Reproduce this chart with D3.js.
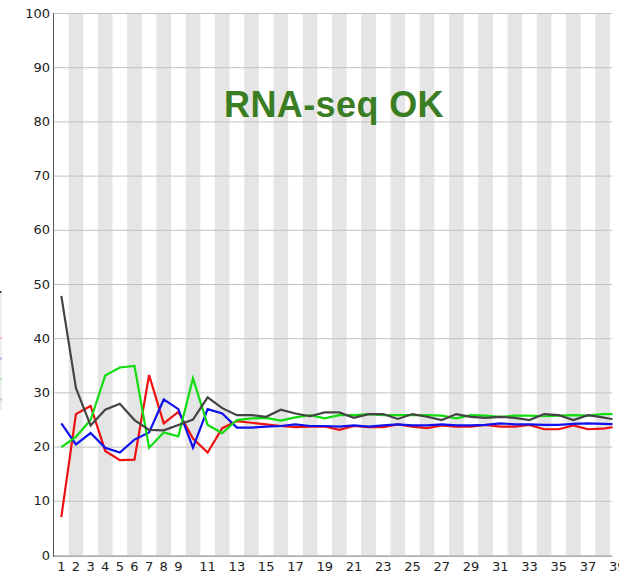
<!DOCTYPE html>
<html>
<head>
<meta charset="utf-8">
<script src="https://cdn.jsdelivr.net/npm/d3@7"></script>
<style>
  html, body { margin: 0; padding: 0; background: #fff; }
  svg { display: block; }
</style>
</head>
<body>
<svg id="chart" width="619" height="574"></svg>
<script>
// Base positions along the read
const positions = d3.range(1, 40);
// Labelled positions on the x axis
const xTickLabels = [1, 2, 3, 4, 5, 6, 7, 8, 9, 11, 13, 15, 17, 19, 21, 23, 25, 27, 29, 31, 33, 35, 37, 39];
const yTicks = [0, 10, 20, 30, 40, 50, 60, 70, 80, 90, 100];

// Percentage of each base at each position
const pctT = [7.0, 26.0, 27.5, 19.2, 17.5, 17.6, 33.2, 24.3, 26.4, 21.5, 18.9, 23.4, 24.7, 24.4, 24.1, 23.8,
              23.6, 23.7, 23.7, 23.1, 23.8, 23.6, 23.6, 24.1, 23.7, 23.4, 23.9, 23.7, 23.7, 24.0, 23.7, 23.7,
              24.0, 23.2, 23.2, 23.9, 23.2, 23.3, 23.7];
const pctC = [24.3, 20.4, 22.5, 19.8, 18.9, 21.3, 22.6, 28.7, 26.9, 19.8, 26.9, 26.1, 23.5, 23.5, 23.7, 23.8,
              24.1, 23.8, 23.8, 23.7, 23.9, 23.7, 23.9, 24.1, 23.9, 23.9, 24.1, 23.9, 23.9, 24.0, 24.3, 24.1,
              24.1, 24.0, 24.0, 24.2, 24.3, 24.2, 24.1];
const pctA = [19.9, 21.8, 24.9, 33.1, 34.6, 34.9, 19.8, 22.6, 21.9, 32.6, 24.0, 22.5, 24.9, 25.2, 25.3, 24.8,
              25.4, 25.8, 25.2, 25.8, 25.8, 26.0, 25.8, 25.8, 25.8, 25.8, 25.7, 25.2, 25.8, 25.7, 25.5, 25.7,
              25.7, 25.6, 25.7, 25.8, 25.7, 26.0, 26.0];
const pctG = [47.8, 30.8, 23.9, 26.8, 27.9, 24.9, 23.1, 23.0, 24.0, 25.0, 29.1, 27.1, 25.8, 25.8, 25.5, 26.8,
              26.1, 25.6, 26.3, 26.3, 25.3, 26.0, 26.0, 25.1, 26.0, 25.5, 24.9, 26.0, 25.5, 25.3, 25.5, 25.3,
              24.9, 26.0, 25.8, 24.9, 25.8, 25.4, 24.9];

const seriesColors = ["#ee1111", "#1111ee", "#11dd11", "#444444"];
const seriesValues = [pctT, pctC, pctA, pctG];

const titleText = "RNA-seq OK";

const svg = d3.select("#chart");
const plot = { left: 54, right: 612.5, top: 13, bottom: 555 };
const step = 14.63;

const x = d3.scaleBand()
  .domain(positions)
  .range([plot.left, plot.left + step * positions.length])
  .paddingInner(0).paddingOuter(0);
const y = d3.scaleLinear().domain([0, 100]).range([plot.bottom, plot.top]);

svg.append("defs").append("clipPath").attr("id", "plotClip")
  .append("rect")
  .attr("x", plot.left).attr("y", plot.top - 2)
  .attr("width", plot.right - plot.left).attr("height", plot.bottom - plot.top + 4);

const body = svg.append("g").attr("clip-path", "url(#plotClip)");

// Alternating shaded columns for even positions
body.append("g").selectAll("rect")
  .data(positions.filter(p => p % 2 === 0))
  .join("rect")
  .attr("x", d => x(d))
  .attr("y", y(100))
  .attr("width", x.bandwidth())
  .attr("height", y(0) - y(100))
  .attr("fill", "#e5e5e5");

// Horizontal gridlines
body.append("g").selectAll("line")
  .data(yTicks)
  .join("line")
  .attr("x1", plot.left).attr("x2", plot.right)
  .attr("y1", d => y(d) + 0.5).attr("y2", d => y(d) + 0.5)
  .attr("stroke", "#c2c2c2").attr("stroke-width", 1);

// Base composition lines
const line = d3.line()
  .x((d, i) => x(positions[i]) + x.bandwidth() / 2)
  .y(d => y(d));

body.append("g").selectAll("path")
  .data(seriesValues)
  .join("path")
  .attr("d", d => line(d))
  .attr("fill", "none")
  .attr("stroke", (d, i) => seriesColors[i])
  .attr("stroke-width", 2.2)
  .attr("stroke-linejoin", "miter");

// Axes
svg.append("line")
  .attr("x1", plot.left).attr("x2", plot.right)
  .attr("y1", plot.bottom + 1.5).attr("y2", plot.bottom + 1.5)
  .attr("stroke", "#b0b0b0").attr("stroke-width", 1);
svg.append("line")
  .attr("x1", plot.left - 0.5).attr("x2", plot.left - 0.5)
  .attr("y1", plot.top).attr("y2", plot.bottom + 2)
  .attr("stroke", "#555").attr("stroke-width", 1);

const yAxis = d3.axisLeft(y).tickValues(yTicks).tickSize(0).tickPadding(4);
const gy = svg.append("g").attr("transform", `translate(${plot.left},0)`).call(yAxis);
gy.select(".domain").remove();
gy.selectAll("text")
  .attr("font-family", "DejaVu Sans")
  .attr("font-size", 13)
  .attr("fill", "#222");

const xAxis = d3.axisBottom(x).tickValues(xTickLabels).tickSize(0).tickPadding(6);
const gx = svg.append("g").attr("transform", `translate(0,${plot.bottom + 1})`).call(xAxis);
gx.select(".domain").remove();
gx.selectAll("text")
  .attr("font-family", "DejaVu Sans")
  .attr("font-size", 13)
  .attr("fill", "#222");

// Legend box, mostly outside the left edge: only its right rim and line swatches show
const legend = svg.append("g").attr("transform", "translate(-70,291)");
legend.append("rect")
  .attr("x", 0).attr("y", 0).attr("width", 71).attr("height", 118)
  .attr("fill", "none").attr("stroke", "#ddd").attr("stroke-width", 1);
legend.append("rect")
  .attr("x", 69.5).attr("y", 0).attr("width", 2).attr("height", 2)
  .attr("fill", "#444");
seriesColors.forEach((c, i) => {
  legend.append("line")
    .attr("x1", 40).attr("x2", 72)
    .attr("y1", 47 + i * 20.5).attr("y2", 47 + i * 20.5)
    .attr("stroke", c).attr("stroke-width", 2).attr("opacity", 0.25);
});

// Status title
svg.append("text")
  .attr("x", 334).attr("y", 117)
  .attr("text-anchor", "middle")
  .attr("font-family", "Liberation Sans, Arial, sans-serif")
  .attr("font-weight", "bold")
  .attr("font-size", 36)
  .attr("letter-spacing", 0.4)
  .attr("fill", "#3b7d23")
  .text(titleText);
</script>
</body>
</html>
